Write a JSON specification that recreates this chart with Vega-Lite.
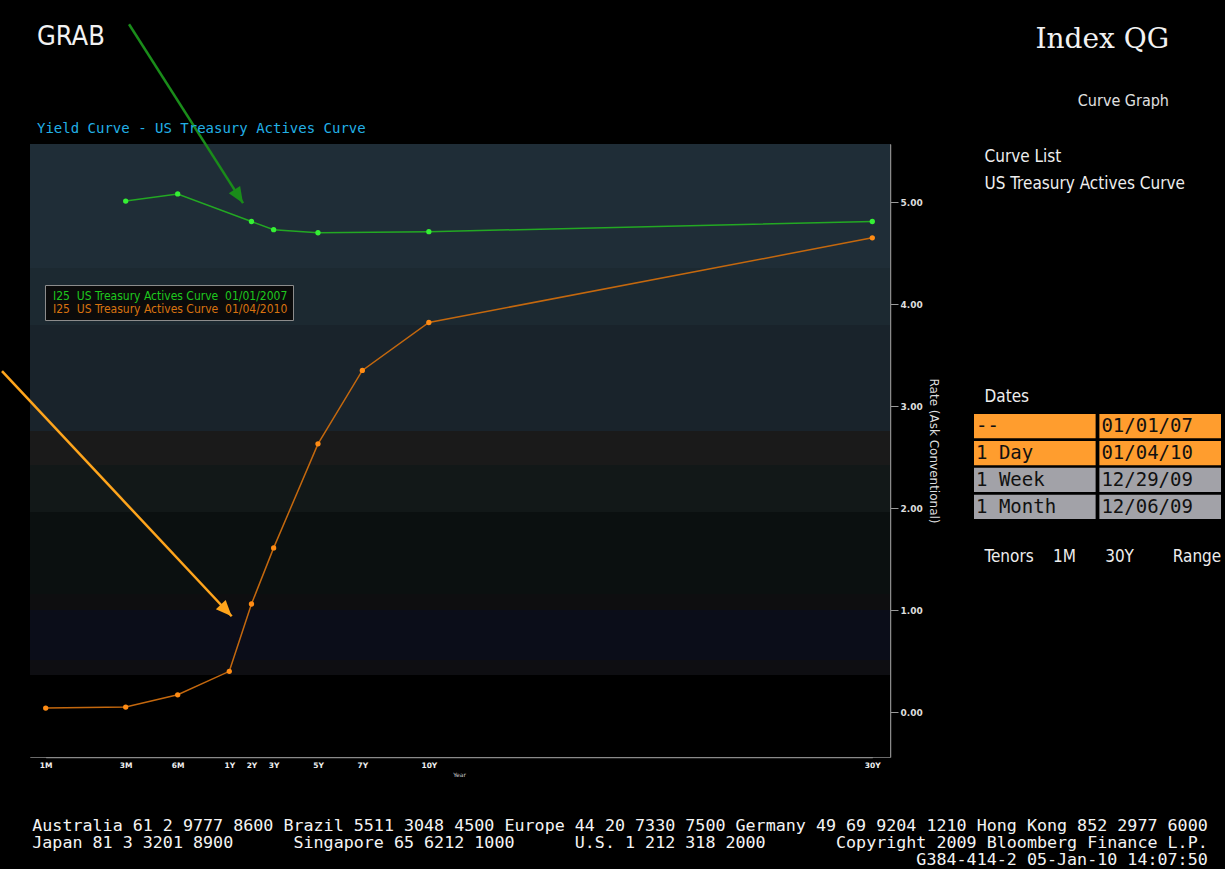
{
  "$schema": "https://vega.github.io/schema/vega-lite/v6.json",
  "background": "#000000",
  "padding": {"left": 0, "top": 22, "right": 4, "bottom": 0},
  "config": {"view": {"stroke": null}, "font": "DejaVu Sans"},
  "datasets": {
    "curves": [
      {"curve_date": "01/01/2007", "tenor": "3M", "years": 0.25, "rate": 5.01},
      {"curve_date": "01/01/2007", "tenor": "6M", "years": 0.5, "rate": 5.08},
      {"curve_date": "01/01/2007", "tenor": "2Y", "years": 2, "rate": 4.81},
      {"curve_date": "01/01/2007", "tenor": "3Y", "years": 3, "rate": 4.73},
      {"curve_date": "01/01/2007", "tenor": "5Y", "years": 5, "rate": 4.70},
      {"curve_date": "01/01/2007", "tenor": "10Y", "years": 10, "rate": 4.71},
      {"curve_date": "01/01/2007", "tenor": "30Y", "years": 30, "rate": 4.81},
      {"curve_date": "01/04/2010", "tenor": "1M", "years": 0.083333, "rate": 0.04},
      {"curve_date": "01/04/2010", "tenor": "3M", "years": 0.25, "rate": 0.05},
      {"curve_date": "01/04/2010", "tenor": "6M", "years": 0.5, "rate": 0.17},
      {"curve_date": "01/04/2010", "tenor": "1Y", "years": 1, "rate": 0.40},
      {"curve_date": "01/04/2010", "tenor": "2Y", "years": 2, "rate": 1.06},
      {"curve_date": "01/04/2010", "tenor": "3Y", "years": 3, "rate": 1.61},
      {"curve_date": "01/04/2010", "tenor": "5Y", "years": 5, "rate": 2.63},
      {"curve_date": "01/04/2010", "tenor": "7Y", "years": 7, "rate": 3.35},
      {"curve_date": "01/04/2010", "tenor": "10Y", "years": 10, "rate": 3.82},
      {"curve_date": "01/04/2010", "tenor": "30Y", "years": 30, "rate": 4.65}
    ],
    "arrows": [
      {"points_to": "01/01/2007", "from_years": 0.266, "from_rate": 6.744, "to_years": 1.62, "to_rate": 4.99},
      {"points_to": "01/04/2010", "from_years": -0.0077, "from_rate": 3.343, "to_years": 1.108, "to_rate": 0.94}
    ],
    "dates": [
      {"period": "--", "date": "01/01/07", "shown": "yes"},
      {"period": "1 Day", "date": "01/04/10", "shown": "yes"},
      {"period": "1 Week", "date": "12/29/09", "shown": "no"},
      {"period": "1 Month", "date": "12/06/09", "shown": "no"}
    ]
  },
  "title": {
    "text": [
      "Australia 61 2 9777 8600 Brazil 5511 3048 4500 Europe 44 20 7330 7500 Germany 49 69 9204 1210 Hong Kong 852 2977 6000",
      "Japan 81 3 3201 8900\u00a0\u00a0\u00a0\u00a0\u00a0\u00a0Singapore 65 6212 1000\u00a0\u00a0\u00a0\u00a0\u00a0\u00a0U.S. 1 212 318 2000\u00a0\u00a0\u00a0\u00a0\u00a0\u00a0\u00a0Copyright 2009 Bloomberg Finance L.P.",
      "\u200b\u00a0\u00a0\u00a0\u00a0\u00a0\u00a0\u00a0\u00a0\u00a0\u00a0\u00a0\u00a0\u00a0\u00a0\u00a0\u00a0\u00a0\u00a0\u00a0\u00a0\u00a0\u00a0\u00a0\u00a0\u00a0\u00a0\u00a0\u00a0\u00a0\u00a0\u00a0\u00a0\u00a0\u00a0\u00a0\u00a0\u00a0\u00a0\u00a0\u00a0\u00a0\u00a0\u00a0\u00a0\u00a0\u00a0\u00a0\u00a0\u00a0\u00a0\u00a0\u00a0\u00a0\u00a0\u00a0\u00a0\u00a0\u00a0\u00a0\u00a0\u00a0\u00a0\u00a0\u00a0\u00a0\u00a0\u00a0\u00a0\u00a0\u00a0\u00a0\u00a0\u00a0\u00a0\u00a0\u00a0\u00a0\u00a0\u00a0\u00a0\u00a0\u00a0\u00a0\u00a0\u00a0\u00a0\u00a0\u00a0G384-414-2 05-Jan-10 14:07:50"
    ],
    "orient": "bottom",
    "anchor": "start",
    "frame": "bounds",
    "dx": 32,
    "offset": 40,
    "font": "DejaVu Sans Mono",
    "fontSize": 16.7,
    "fontWeight": "normal",
    "color": "#f4f4f4",
    "lineHeight": 17
  },
  "spacing": 34,
  "resolve": {"scale": {"fill": "independent", "color": "independent"}},
  "hconcat": [
    {
      "width": 860,
      "height": 613,
      "view": {"stroke": "#6b6b6b", "strokeWidth": 1},
      "title": {
        "text": "GRAB",
        "subtitle": "Yield Curve - US Treasury Actives Curve",
        "anchor": "start",
        "frame": "group",
        "dx": 7,
        "font": "Liberation Sans Narrow, DejaVu Sans Condensed",
        "fontSize": 27,
        "fontWeight": "normal",
        "color": "#f2f2f2",
        "subtitleFont": "DejaVu Sans Mono",
        "subtitleFontSize": 14,
        "subtitleColor": "#22b0e6",
        "subtitlePadding": 71,
        "offset": -114
      },
      "layer": [
        {
          "data": {"values": [{}]},
          "mark": {
            "type": "rect",
            "fill": {
              "gradient": "linear", "x1": 0, "y1": 0, "x2": 0, "y2": 1,
              "stops": [
                {"offset": 0, "color": "#1f2d37"}, {"offset": 0.2023, "color": "#1f2d37"},
                {"offset": 0.2023, "color": "#1c2931"}, {"offset": 0.2953, "color": "#1c2931"},
                {"offset": 0.2953, "color": "#19232b"}, {"offset": 0.4682, "color": "#19232b"},
                {"offset": 0.4682, "color": "#1a1a1a"}, {"offset": 0.5237, "color": "#1a1a1a"},
                {"offset": 0.5237, "color": "#121818"}, {"offset": 0.6003, "color": "#121818"},
                {"offset": 0.6003, "color": "#0b1010"}, {"offset": 0.7341, "color": "#0b1010"},
                {"offset": 0.7341, "color": "#0e0e10"}, {"offset": 0.7602, "color": "#0e0e10"},
                {"offset": 0.7602, "color": "#0b0d19"}, {"offset": 0.8418, "color": "#0b0d19"},
                {"offset": 0.8418, "color": "#0e0e12"}, {"offset": 0.8662, "color": "#0e0e12"},
                {"offset": 0.8662, "color": "#000000"}, {"offset": 1, "color": "#000000"}
              ]
            }
          },
          "encoding": {
            "x": {"value": 0},
            "x2": {"value": "width"},
            "y": {"value": 0},
            "y2": {"value": "height"}
          }
        },
        {
          "data": {"name": "curves"},
          "mark": {"type": "line", "strokeWidth": 1.5},
          "encoding": {
            "x": {
              "field": "years", "type": "quantitative",
              "scale": {"domain": [0.083333, 0.25, 0.5, 1, 30], "range": [15.7, 95.7, 147.7, 199.3, 842.3], "nice": false, "zero": false},
              "axis": {
                "values": [0.083333, 0.25, 0.5, 1, 2, 3, 5, 7, 10, 30],
                "labelExpr": "datum.value < 1 ? round(datum.value * 12) + 'M' : datum.value + 'Y'",
                "labelOverlap": false, "labelFlush": false, "labelBound": false,
                "title": "Year", "titleFontSize": 6, "titleColor": "#cccccc", "titlePadding": 3, "titleFontWeight": "normal",
                "labelFontSize": 7.5, "labelFontWeight": "bold", "labelColor": "#f0f0f0", "labelPadding": 4,
                "ticks": false, "domainColor": "#8a8a8a", "domainWidth": 1.5,
                "grid": true, "gridColor": "#9aa6ae", "gridDash": [2, 2], "gridOpacity": 0.55, "gridWidth": 1
              }
            },
            "y": {
              "field": "rate", "type": "quantitative",
              "scale": {"domain": [-0.44, 5.57], "nice": false, "zero": false},
              "axis": {
                "orient": "right", "values": [0, 1, 2, 3, 4, 5], "format": ".2f",
                "title": "Rate (Ask Conventional)", "titleFontSize": 12, "titleFontWeight": "normal", "titleColor": "#dddddd", "titlePadding": 4,
                "labelFontWeight": "bold", "labelFontSize": 9, "labelColor": "#dddddd", "labelPadding": 2,
                "tickSize": 8, "tickColor": "#9a9a9a", "domainColor": "#8a8a8a", "domainWidth": 1.5,
                "grid": true, "gridColor": "#9aa6ae", "gridDash": [2, 2], "gridOpacity": 0.55, "gridWidth": 1
              }
            },
            "color": {
              "field": "curve_date", "type": "nominal",
              "scale": {"domain": ["01/01/2007", "01/04/2010"], "range": ["#23a823", "#c4680e"]},
              "legend": {
                "orient": "none", "legendX": 15, "legendY": 141, "title": null,
                "fillColor": "#0b0b0b", "strokeColor": "#8c8c8c", "padding": 5,
                "symbolSize": 0, "symbolStrokeWidth": 0, "symbolOpacity": 0, "labelOffset": -9,
                "labelFont": "DejaVu Sans Condensed", "labelFontSize": 12, "labelLimit": 400, "rowPadding": 1,
                "labelExpr": "'I25\u00a0\u00a0US Treasury Actives Curve\u00a0\u00a0' + datum.label",
                "encode": {"labels": {"update": {"fill": {"signal": "datum.value === '01/01/2007' ? '#1ec81e' : '#d9730f'"}}}}
              }
            }
          }
        },
        {
          "data": {"name": "curves"},
          "mark": {"type": "point", "filled": true, "size": 28, "opacity": 1},
          "encoding": {
            "x": {"field": "years", "type": "quantitative"},
            "y": {"field": "rate", "type": "quantitative"},
            "fill": {
              "field": "curve_date", "type": "nominal",
              "scale": {"domain": ["01/01/2007", "01/04/2010"], "range": ["#35f035", "#ff8c14"]},
              "legend": null
            }
          }
        },
        {
          "data": {"name": "arrows"},
          "transform": [{"filter": "datum.points_to === '01/01/2007'"}],
          "mark": {"type": "rule", "color": "#1a8c1a", "strokeWidth": 2.5},
          "encoding": {
            "x": {"field": "from_years", "type": "quantitative"},
            "y": {"field": "from_rate", "type": "quantitative"},
            "x2": {"field": "to_years"},
            "y2": {"field": "to_rate"}
          }
        },
        {
          "data": {"name": "arrows"},
          "transform": [{"filter": "datum.points_to === '01/01/2007'"}],
          "mark": {"type": "point", "shape": "M0,0 L-0.42,1 L0.42,1 Z", "filled": true, "size": 1024, "angle": 147.5, "color": "#1a8c1a", "opacity": 1},
          "encoding": {
            "x": {"field": "to_years", "type": "quantitative"},
            "y": {"field": "to_rate", "type": "quantitative"}
          }
        },
        {
          "data": {"name": "arrows"},
          "transform": [{"filter": "datum.points_to === '01/04/2010'"}],
          "mark": {"type": "rule", "color": "#ffa51c", "strokeWidth": 2.5},
          "encoding": {
            "x": {"field": "from_years", "type": "quantitative"},
            "y": {"field": "from_rate", "type": "quantitative"},
            "x2": {"field": "to_years"},
            "y2": {"field": "to_rate"}
          }
        },
        {
          "data": {"name": "arrows"},
          "transform": [{"filter": "datum.points_to === '01/04/2010'"}],
          "mark": {"type": "point", "shape": "M0,0 L-0.42,1 L0.42,1 Z", "filled": true, "size": 1024, "angle": 136.9, "color": "#ffa51c", "opacity": 1},
          "encoding": {
            "x": {"field": "to_years", "type": "quantitative"},
            "y": {"field": "to_rate", "type": "quantitative"}
          }
        }
      ]
    },
    {
      "width": 247,
      "height": 375,
      "data": {"name": "dates"},
      "transform": [{"fold": ["period", "date"], "as": ["column", "text"]}],
      "title": {
        "text": "Index QG",
        "subtitle": "Curve Graph",
        "anchor": "end",
        "frame": "group",
        "dx": -52,
        "font": "DejaVu Serif",
        "fontSize": 28,
        "fontWeight": "normal",
        "color": "#f2f2f2",
        "subtitleFont": "DejaVu Sans Condensed",
        "subtitleFontSize": 16,
        "subtitleColor": "#e0e0e0",
        "subtitlePadding": 39,
        "offset": 35
      },
      "encoding": {
        "y": {
          "field": "period", "type": "nominal", "sort": ["--", "1 Day", "1 Week", "1 Month"],
          "scale": {"range": [270, 375], "paddingInner": 0.1, "paddingOuter": 0},
          "axis": {
            "orient": "left", "labels": false, "ticks": false, "domain": false, "grid": false,
            "title": ["Dates", "Tenors\u00a0\u00a0\u00a0\u00a01M\u00a0\u00a0\u00a0\u00a0\u00a0\u00a030Y\u00a0\u00a0\u00a0\u00a0\u00a0\u00a0\u00a0\u00a0Range"],
            "titleAngle": 0, "titleAlign": "left", "titleBaseline": "top",
            "titleX": 10, "titleY": 244, "titleLineHeight": 160,
            "titleFont": "DejaVu Sans Condensed", "titleFontSize": 17, "titleFontWeight": "normal", "titleColor": "#eeeeee"
          }
        }
      },
      "layer": [
        {
          "mark": {"type": "rect"},
          "encoding": {
            "x": {
              "field": "column", "type": "nominal", "sort": ["period", "date"],
              "scale": {"paddingInner": 0.03, "paddingOuter": 0},
              "axis": {
                "orient": "top", "labels": false, "ticks": false, "domain": false, "grid": false,
                "title": ["Curve List", "US Treasury Actives Curve"], "titleAlign": "left", "titleBaseline": "top", "titleAngle": 0,
                "titleX": 10, "titleY": 4, "titleLineHeight": 27,
                "titleFont": "DejaVu Sans Condensed", "titleFontSize": 17,
                "titleFontWeight": "normal", "titleColor": "#eeeeee"
              }
            },
            "fill": {
              "field": "shown", "type": "nominal",
              "scale": {"domain": ["yes", "no"], "range": ["#ff9d2e", "#a2a2a8"]},
              "legend": null
            }
          }
        },
        {
          "mark": {"type": "text", "align": "left", "baseline": "middle", "dx": 2, "font": "DejaVu Sans Mono", "fontSize": 19, "color": "#111111"},
          "encoding": {
            "x": {"field": "column", "type": "nominal", "sort": ["period", "date"], "bandPosition": 0},
            "text": {"field": "text"}
          }
        }
      ]
    }
  ]
}
